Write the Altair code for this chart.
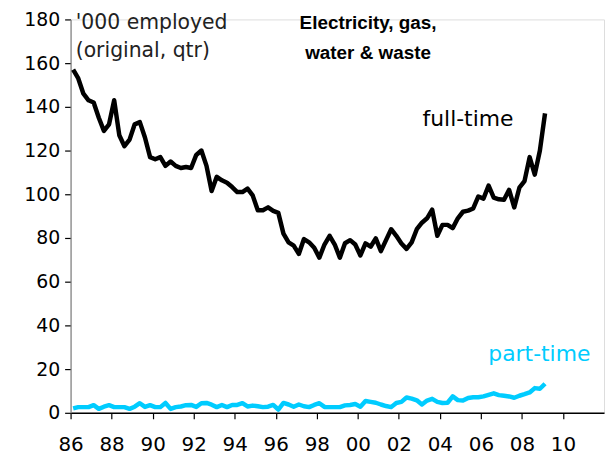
import altair as alt
import pandas as pd

# Quarterly observations, Feb-1986 .. Feb-2009 ('000 employed)
full_time = [157, 153, 146, 143, 142, 135, 129, 132, 143, 127,
             122, 125, 132, 133, 126, 117, 116, 117, 113, 115,
             113, 112, 112.5, 112, 118, 120, 113, 101.5, 108, 106.4,
             105.3, 103.3, 101, 101, 102.6, 99.5, 92.7, 92.7, 94, 92.4,
             91.5, 82, 78, 76.5, 72.7, 79.5, 78, 75.5, 71, 77,
             81, 77, 71, 77.6, 79, 77, 72, 77.5, 76, 79.8,
             74, 79, 84, 81, 77.5, 75, 78, 84, 87, 89,
             93, 81, 86, 86, 84.5, 89, 92, 92.5, 93.5, 99,
             98, 104, 98.5, 97.7, 97.5, 102, 94, 103, 106, 117,
             109, 120, 137]
part_time = [2.0, 2.6, 2.6, 2.6, 3.5, 1.8, 2.8, 3.5, 2.6, 2.6,
             2.6, 1.8, 2.8, 4.4, 2.7, 3.5, 2.6, 2.6, 4.5, 1.8,
             2.6, 2.9, 3.5, 3.6, 2.7, 4.4, 4.5, 3.7, 2.6, 3.6,
             2.6, 3.6, 3.6, 4.4, 2.9, 3.3, 3.0, 2.6, 2.8, 3.6,
             1.5, 4.5, 3.8, 2.8, 3.8, 3.0, 2.6, 3.6, 4.4, 2.7,
             2.6, 2.6, 2.6, 3.4, 3.6, 4.0, 2.8, 5.4, 5.0, 4.6,
             3.8, 3.1, 2.6, 4.5, 5.0, 7.0, 6.5, 5.7, 3.8, 5.6,
             6.4, 5.0, 4.5, 4.6, 7.5, 5.8, 5.6, 6.8, 7.1, 7.1,
             7.5, 8.2, 8.9, 8.1, 7.8, 7.5, 6.9, 7.8, 8.5, 9.3,
             11.3, 11.0, 13.3]
start_year = 1986.125  # February 1986
dates = [start_year + 0.25 * i for i in range(len(full_time))]

series_names = ["full-time", "part-time"]
series_colors = ["#000000", "#00CCFF"]

x_ticks = list(range(1986, 2011, 2))
y_ticks = list(range(0, 181, 20))

rows = []
for d, f, p in zip(dates, full_time, part_time):
    rows.append({"date": d, "value": f, "series": "full-time"})
    rows.append({"date": d, "value": p, "series": "part-time"})
df = pd.DataFrame(rows)

# annotation texts (placed in data units)
ann_left = pd.DataFrame({
    "date": [1986.25, 1986.25],
    "value": [178.2, 165.5],
    "text": ["'000 employed", "(original, qtr)"],
})
ann_title = pd.DataFrame({
    "date": [2000.5, 2000.5],
    "value": [178.2, 164.8],
    "text": ["Electricity, gas,", "water & waste"],
})
ann_series = pd.DataFrame({
    "date": [2005.37, 2008.85],
    "value": [134.5, 26.8],
    "text": ["full-time", "part-time"],
    "series": series_names,
})

x_scale = alt.Scale(domain=[1986, 2012], nice=False, zero=False)
y_scale = alt.Scale(domain=[0, 180], nice=False)
color_scale = alt.Scale(domain=series_names, range=series_colors)

x_axis = alt.Axis(
    values=x_ticks, title=None, grid=False,
    labelExpr="(datum.value % 100) < 10 ? '0' + (datum.value % 100) : '' + (datum.value % 100)",
    labelFont="DejaVu Sans", labelFontSize=20, labelColor="#000000",
    labelPadding=16, tickSize=6, tickColor="#000000", domainColor="#000000",
    domainWidth=1.5, tickWidth=1.2, labelFlush=False, labelOverlap=False,
)
y_axis = alt.Axis(
    values=y_ticks, title=None, grid=False,
    labelFont="DejaVu Sans", labelFontSize=19, labelColor="#000000",
    labelPadding=5, tickSize=6, tickColor="#000000", domainColor="#808080",
    domainWidth=1.2, tickWidth=1.2, labelFlush=False, labelOverlap=False,
)

lines = alt.Chart(df).mark_line(strokeWidth=4.5, strokeJoin="round", strokeCap="butt").encode(
    x=alt.X("date:Q", scale=x_scale, axis=x_axis),
    y=alt.Y("value:Q", scale=y_scale, axis=y_axis),
    color=alt.Color("series:N", scale=color_scale, legend=None),
    detail="series:N",
)

left_text = alt.Chart(ann_left).mark_text(
    align="left", baseline="middle", font="DejaVu Sans", fontSize=20.5, color="#222222"
).encode(x=alt.X("date:Q", scale=x_scale), y=alt.Y("value:Q", scale=y_scale), text="text:N")

title_text = alt.Chart(ann_title).mark_text(
    align="center", baseline="middle", font="Liberation Sans", fontSize=19,
    fontWeight="bold", color="#000000"
).encode(x=alt.X("date:Q", scale=x_scale), y=alt.Y("value:Q", scale=y_scale), text="text:N")

series_text = alt.Chart(ann_series).mark_text(
    align="center", baseline="middle", font="DejaVu Sans", fontSize=22
).encode(
    x=alt.X("date:Q", scale=x_scale), y=alt.Y("value:Q", scale=y_scale), text="text:N",
    color=alt.Color("series:N", scale=color_scale, legend=None),
)

chart = alt.layer(lines, left_text, title_text, series_text).properties(
    width=537, height=396,
    autosize=alt.AutoSizeParams(type="none"),
    padding={"left": 63, "top": 10, "right": 2, "bottom": 46},
).configure_view(stroke=None).configure(background="#ffffff")

chart.save("out.html", embed_options={"renderer": "svg", "actions": False})
